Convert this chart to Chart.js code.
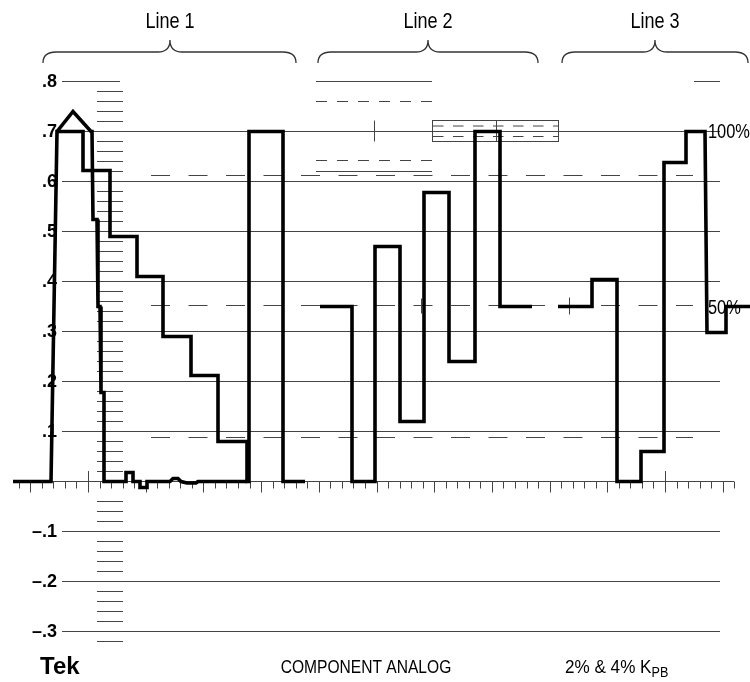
<!DOCTYPE html>
<html>
<head>
<meta charset="utf-8">
<script src="https://cdn.jsdelivr.net/npm/chart.js@4.4.0/dist/chart.umd.min.js"></script>
<style>
  html, body { margin: 0; padding: 0; background: #fff; }
  canvas { display: block; }
</style>
</head>
<body>
<canvas id="wfm" width="750" height="682"></canvas>
<script>
// time axis = sample position across the screen, level axis = volts

// Line 1 : staircase then white bar
const line1T = [13, 51, 57, 83, 83, 110, 110, 137, 137, 163, 163, 191, 191, 218, 218, 247, 247, 249, 249, 283, 283, 305]
const line1V = [0, 0, 0.7, 0.7, 0.622, 0.622, 0.49, 0.49, 0.41, 0.41, 0.29, 0.29, 0.212, 0.212, 0.08, 0.08, 0, 0, 0.7, 0.7, 0, 0]

// Line 1 : second sweep (overshoot, fast steps, ringing)
const sweepT = [57, 73, 91, 92, 93, 97, 98, 100, 101, 104, 104, 126, 126, 133, 133, 140, 140, 147, 147, 170, 173, 178, 181, 187, 196, 198, 247]
const sweepV = [0.7, 0.74, 0.7, 0.7, 0.524, 0.524, 0.35, 0.35, 0.178, 0.178, 0, 0, 0.018, 0.018, 0, 0, -0.012, -0.012, 0, 0, 0.006, 0.006, 0, -0.003, -0.003, 0, 0]

// Line 2
const line2T = [320, 352, 352, 375, 375, 400, 400, 424, 424, 449, 449, 475, 475, 500, 500, 532]
const line2V = [0.35, 0.35, 0, 0, 0.47, 0.47, 0.12, 0.12, 0.578, 0.578, 0.24, 0.24, 0.70, 0.70, 0.35, 0.35]

// Line 3
const line3T = [558, 592, 592, 617, 617, 641, 641, 664, 664, 686, 686, 705, 707, 726, 726, 750]
const line3V = [0.35, 0.35, 0.404, 0.404, 0, 0, 0.06, 0.06, 0.638, 0.638, 0.70, 0.70, 0.298, 0.298, 0.35, 0.35]

// level scale
const levelTicks = [0.8, 0.7, 0.6, 0.5, 0.4, 0.3, 0.2, 0.1, -0.1, -0.2, -0.3]
const levelLabels = ['.8', '.7', '.6', '.5', '.4', '.3', '.2', '.1', '\u2013.1', '\u2013.2', '\u2013.3']
const refLevels = [0.612, 0.352, 0.088]

const lineNames = ['Line 1', 'Line 2', 'Line 3']
const braceSpans = [[43, 170, 296], [318, 428, 538], [562, 655, 748]]

const SANS = '"Liberation Sans", Arial, Helvetica, sans-serif'

function pts(t, v) {
    return t.map((ti, i) => ({x: ti, y: v[i]}))
}

// condensed text: squeeze regular sans to look like Helvetica Narrow
function narrowText(ctx, s, x, y, px, squeeze) {
    ctx.font = px + 'px ' + SANS
    let w = ctx.measureText(s).width
    ctx.fillText(s, x, y, w * (squeeze || 0.82))
    return w * (squeeze || 0.82)
}

const graticule = {
    id: 'graticule',
    beforeDatasetsDraw(chart) {
        const {ctx, scales: {x, y}} = chart
        const X = v => x.getPixelForValue(v)
        const Y = v => y.getPixelForValue(v)
        const h = (v, x0, x1) => {
            ctx.beginPath()
            ctx.moveTo(X(x0), Y(v))
            ctx.lineTo(X(x1), Y(v))
            ctx.stroke()
        }
        const vl = (t, v0, v1) => {
            ctx.beginPath()
            ctx.moveTo(Math.round(X(t)) + 0.5, Y(v0))
            ctx.lineTo(Math.round(X(t)) + 0.5, Y(v1))
            ctx.stroke()
        }
        ctx.save()
        ctx.strokeStyle = '#444'
        ctx.lineWidth = 1

        // solid levels
        for (let v of levelTicks) {
            h(v, 62, v == 0.8 ? 120 : 720)
        }
        // zero line with time ticks
        h(0, 13, 734)
        for (let k = -6; k <= 56; k++) {
            let t = 88 + k * 11.54
            if (k % 5 == 0) {
                vl(t, (k == 0 || k == 50) ? 0.021 : 0, -0.022)
            } else {
                vl(t, 0, -0.014)
            }
        }
        // left scale ticks every .02
        for (let i = -16; i <= 39; i++) {
            if (i == -1 || i == 0) continue
            h(i * 0.02, 97, 123)
        }

        // long dashed reference levels
        ctx.setLineDash([19, 18.5])
        for (let v of refLevels) h(v, 151, 693)

        // line 2 window
        ctx.setLineDash([11, 10])
        h(0.76, 316, 432)
        h(0.642, 316, 432)
        ctx.setLineDash([10.5, 9.5])
        h(0.711, 433, 558)
        h(0.69, 433, 558)
        ctx.setLineDash([])
        h(0.8, 316, 432)
        h(0.62, 316, 432)
        ctx.strokeRect(Math.round(X(432)) + 0.5, Y(0.722), X(558) - X(432), Y(0.68) - Y(0.722))
        vl(496, 0.722, 0.68)
        vl(374, 0.722, 0.68)
        h(0.8, 694, 720)
        // crosses on the 50% level
        vl(421, 0.366, 0.336)
        vl(569, 0.368, 0.334)

        // braces
        ctx.strokeStyle = '#333'
        ctx.lineWidth = 1.3
        const yEnd = Y(0.837), yBar = Y(0.859), yTip = Y(0.883)
        for (let [L, C, R] of braceSpans) {
            ctx.beginPath()
            ctx.moveTo(X(L), yEnd)
            ctx.quadraticCurveTo(X(L), yBar, X(L) + 13, yBar)
            ctx.lineTo(X(C) - 12, yBar)
            ctx.quadraticCurveTo(X(C), yBar, X(C), yTip)
            ctx.quadraticCurveTo(X(C), yBar, X(C) + 12, yBar)
            ctx.lineTo(X(R) - 13, yBar)
            ctx.quadraticCurveTo(X(R), yBar, X(R), yEnd)
            ctx.stroke()
        }

        // texts
        ctx.fillStyle = '#000'
        ctx.textBaseline = 'middle'
        ctx.textAlign = 'center'
        lineNames.forEach((n, i) => narrowText(ctx, n, X(braceSpans[i][1]), 22, 22))

        ctx.textAlign = 'left'
        narrowText(ctx, '100%', 708, Y(0.7) + 1, 20)
        narrowText(ctx, '50%', 708, Y(0.35) + 2, 20)

        ctx.textBaseline = 'alphabetic'
        ctx.font = 'bold 24px ' + SANS
        ctx.fillText('Tek', 40, 674)
        ctx.textAlign = 'center'
        narrowText(ctx, 'COMPONENT ANALOG', 366, 673, 19)
        ctx.textAlign = 'left'
        let w = narrowText(ctx, '2% & 4% K', 565, 673, 19, 0.9)
        narrowText(ctx, 'PB', 565 + w, 677, 14, 0.9)
        ctx.restore()
    },
    afterDatasetsDraw(chart) {
        const {ctx, scales: {y}} = chart
        ctx.save()
        ctx.fillStyle = '#000'
        ctx.textBaseline = 'middle'
        ctx.textAlign = 'right'
        ctx.font = 'bold 18px ' + SANS
        levelTicks.forEach((v, i) => ctx.fillText(levelLabels[i], 57, y.getPixelForValue(v) + 1))
        ctx.restore()
    }
}

const traceStyle = {
    borderColor: '#000',
    borderWidth: 3.6,
    pointRadius: 0,
    tension: 0,
    fill: false,
    borderJoinStyle: 'miter',
    borderCapStyle: 'butt'
}

const wfm = new Chart(
    document.getElementById('wfm').getContext('2d'),
    {
        type: 'line',
        data: {
            datasets: [
                {label: 'Line 1', data: pts(line1T, line1V), ...traceStyle},
                {label: 'Line 1 sweep', data: pts(sweepT, sweepV), ...traceStyle},
                {label: 'Line 2', data: pts(line2T, line2V), ...traceStyle},
                {label: 'Line 3', data: pts(line3T, line3V), ...traceStyle}
            ]
        },
        options: {
            responsive: false,
            devicePixelRatio: 1,
            animation: false,
            layout: {padding: 0},
            scales: {
                x: {type: 'linear', min: 0, max: 750, display: false},
                y: {type: 'linear', min: -0.401, max: 0.963, display: false}
            },
            plugins: {
                legend: {display: false},
                tooltip: {enabled: false}
            }
        },
        plugins: [graticule]
    }
)
</script>
</body>
</html>
